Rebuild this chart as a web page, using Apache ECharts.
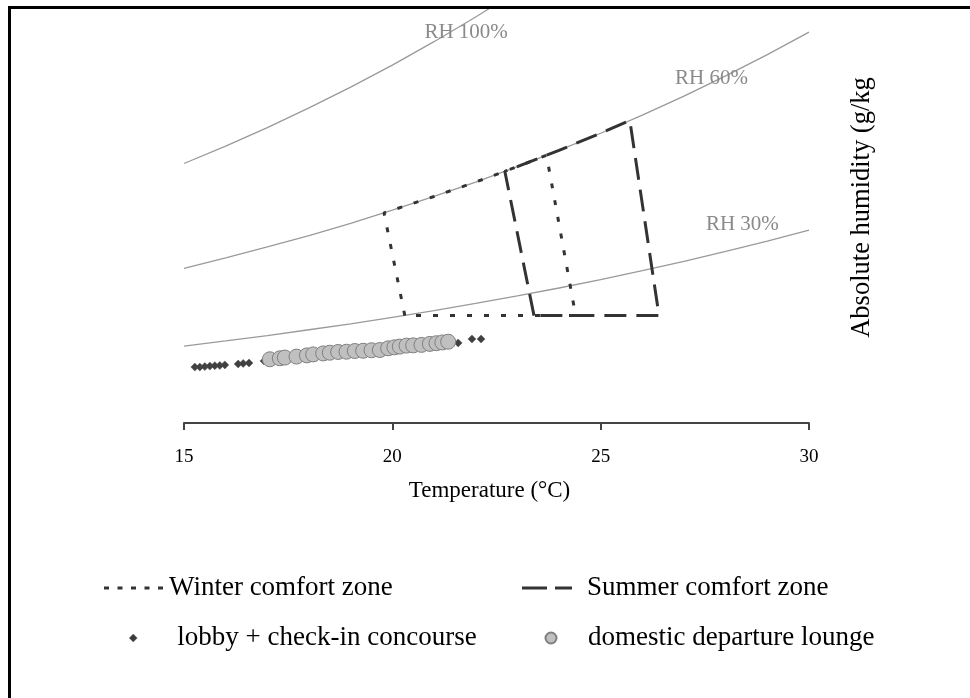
<!DOCTYPE html>
<html>
<head>
<meta charset="utf-8">
<script src="https://cdn.jsdelivr.net/npm/echarts@6/dist/echarts.min.js"></script>
<style>
    html, body, #main {
        width: 100%;
        height: 100%;
        margin: 0;
        background: #fff;
    }
</style>
</head>
<body>
<div id="main"></div>
<script>
// temperature (C) and absolute humidity (g/kg)
var temps = [15, 16, 17, 18, 19, 20, 21, 22, 23, 24, 25, 26, 27, 28, 29, 30];
var rh100 = [10.63, 11.34, 12.10, 12.91, 13.76, 14.66, 15.62, 16.63, 17.70];
var rh60 = [6.33, 6.76, 7.21, 7.68, 8.18, 8.72, 9.28, 9.87, 10.50, 11.17, 11.87, 12.61, 13.39, 14.22, 15.09, 16.01];
var rh30 = [3.15, 3.36, 3.58, 3.82, 4.06, 4.33, 4.60, 4.90, 5.21, 5.53, 5.87, 6.24, 6.62, 7.03, 7.45, 7.90];

var rhNames = ['RH 100%', 'RH 60%', 'RH 30%'];
var rhLabelT = [21.77, 27.66, 28.40];
var rhLabelW = [16.0, 14.10, 8.12];

// comfort zone outlines (closed)
var winterT = [20.3, 19.8, 20, 21, 22, 23, 23.7, 24.4, 20.3];
var winterW = [4.4, 8.61, 8.72, 9.28, 9.87, 10.50, 10.97, 4.4, 4.4];
var summerT = [23.4, 22.7, 23, 24, 25, 25.7, 26.4, 23.4];
var summerW = [4.4, 10.31, 10.50, 11.17, 11.87, 12.39, 4.4, 4.4];

// measurements
var lobbyT = [15.26, 15.38, 15.50, 15.62, 15.74, 15.86, 15.98, 16.30, 16.42, 16.56, 16.92, 21.58, 21.91, 22.13];
var lobbyW = [2.29, 2.29, 2.31, 2.33, 2.35, 2.36, 2.38, 2.42, 2.44, 2.46, 2.54, 3.28, 3.44, 3.44];
var loungeT = [17.06, 17.30, 17.42, 17.70, 17.95, 18.10, 18.34, 18.50, 18.70, 18.90, 19.10, 19.30, 19.50, 19.70,
    19.90, 20.05, 20.18, 20.34, 20.50, 20.70, 20.90, 21.06, 21.20, 21.34];
var loungeW = [2.61, 2.65, 2.68, 2.72, 2.77, 2.81, 2.85, 2.88, 2.91, 2.92, 2.95, 2.96, 2.98, 2.99,
    3.06, 3.10, 3.13, 3.17, 3.18, 3.20, 3.24, 3.27, 3.30, 3.33];

function pairs(xs, ys) {
    return ys.map(function (y, i) { return [xs[i], y]; });
}

var serif = 'Liberation Serif';
var chart = echarts.init(document.getElementById('main'));

var rhCurves = [rh100, rh60, rh30].map(function (vals, i) {
    return {
        name: rhNames[i],
        type: 'line',
        data: pairs(temps, vals),
        symbol: 'none',
        silent: true,
        lineStyle: { color: '#9a9a9a', width: 1.3 },
        markPoint: {
            symbol: 'circle',
            symbolSize: 0,
            silent: true,
            label: {
                show: true,
                position: 'inside',
                formatter: '{b}',
                color: '#8a8a8a',
                fontFamily: serif,
                fontSize: 21
            },
            data: [{ name: rhNames[i], coord: [rhLabelT[i], rhLabelW[i]] }]
        },
        z: 1
    };
});

var legendFont = { fontFamily: serif, fontSize: 27, color: '#000' };

chart.setOption({
    animation: false,
    grid: { left: 184, right: 161, top: 8, bottom: 275 },
    xAxis: {
        type: 'value',
        min: 15,
        max: 30,
        interval: 5,
        name: 'Temperature (°C)',
        nameLocation: 'middle',
        nameGap: 56,
        nameTextStyle: { fontFamily: serif, fontSize: 23, color: '#000', padding: [0, 14, 0, 0] },
        axisLine: { lineStyle: { color: '#444', width: 2 } },
        axisTick: { length: 7, lineStyle: { color: '#444', width: 2 } },
        axisLabel: { margin: 25, fontFamily: serif, fontSize: 19, color: '#000' },
        splitLine: { show: false }
    },
    yAxis: {
        type: 'value',
        position: 'right',
        min: 0,
        max: 17,
        name: 'Absolute humidity (g/kg',
        nameLocation: 'middle',
        nameRotate: 90,
        nameGap: 40,
        nameTextStyle: { fontFamily: serif, fontSize: 26.5, color: '#000', padding: [0, 0, 0, 16] },
        axisLine: { show: false },
        axisTick: { show: false },
        axisLabel: { show: false },
        splitLine: { show: false }
    },
    legend: [
        {
            left: 104, top: 574.5, padding: 0, itemWidth: 61, itemHeight: 3,
            selectedMode: false, textStyle: legendFont,
            data: [{
                name: 'Winter comfort zone',
                icon: 'path://M0,0h5v3h-5z M13.5,0h5v3h-5z M27,0h5v3h-5z M40.5,0h5v3h-5z M54,0h5v3h-5z',
                itemStyle: { color: '#333', borderWidth: 0 }
            }]
        },
        {
            left: 522, top: 574.5, padding: 0, itemWidth: 70, itemHeight: 3,
            selectedMode: false, textStyle: legendFont,
            data: [{
                name: 'Summer comfort zone',
                icon: 'path://M0,0h25v3h-25z M33,0h17v3h-17z',
                itemStyle: { color: '#333', borderWidth: 0 }
            }]
        },
        {
            left: 129, top: 624.5, padding: 0, itemWidth: 78, itemHeight: 8,
            selectedMode: false, textStyle: legendFont,
            data: [{
                name: 'lobby + check-in concourse',
                icon: 'path://M4,0L8,4L4,8L0,4Z',
                itemStyle: { color: '#3a3a3a', borderColor: '#666', borderWidth: 0.5 }
            }]
        },
        {
            left: 544.5, top: 624.5, padding: 0, itemWidth: 64, itemHeight: 11,
            selectedMode: false, textStyle: legendFont,
            data: ['domestic departure lounge']
        }
    ],
    graphic: [{
        type: 'rect',
        shape: { x: 9.5, y: 7.5, width: 2000, height: 2000 },
        style: { fill: 'none', stroke: '#000', lineWidth: 3 },
        silent: true,
        z: 100
    }],
    series: rhCurves.concat([
        {
            name: 'Winter comfort zone',
            type: 'line',
            data: pairs(winterT, winterW),
            symbol: 'none',
            silent: true,
            color: '#333',
            lineStyle: { color: '#333', width: 3, type: [5, 12] },
            z: 3
        },
        {
            name: 'Summer comfort zone',
            type: 'line',
            data: pairs(summerT, summerW),
            symbol: 'none',
            silent: true,
            color: '#333',
            lineStyle: { color: '#333', width: 3, type: [22, 10] },
            z: 3
        },
        {
            name: 'lobby + check-in concourse',
            type: 'scatter',
            data: pairs(lobbyT, lobbyW),
            symbol: 'diamond',
            symbolSize: 8,
            itemStyle: { color: '#404040', borderColor: '#555', borderWidth: 0.5, opacity: 1 },
            z: 4
        },
        {
            name: 'domestic departure lounge',
            type: 'scatter',
            data: pairs(loungeT, loungeW),
            symbol: 'circle',
            symbolSize: 15,
            itemStyle: { color: '#c0c0c0', borderColor: '#7f7f7f', borderWidth: 1, opacity: 1 },
            z: 5
        }
    ])
});
</script>
</body>
</html>
